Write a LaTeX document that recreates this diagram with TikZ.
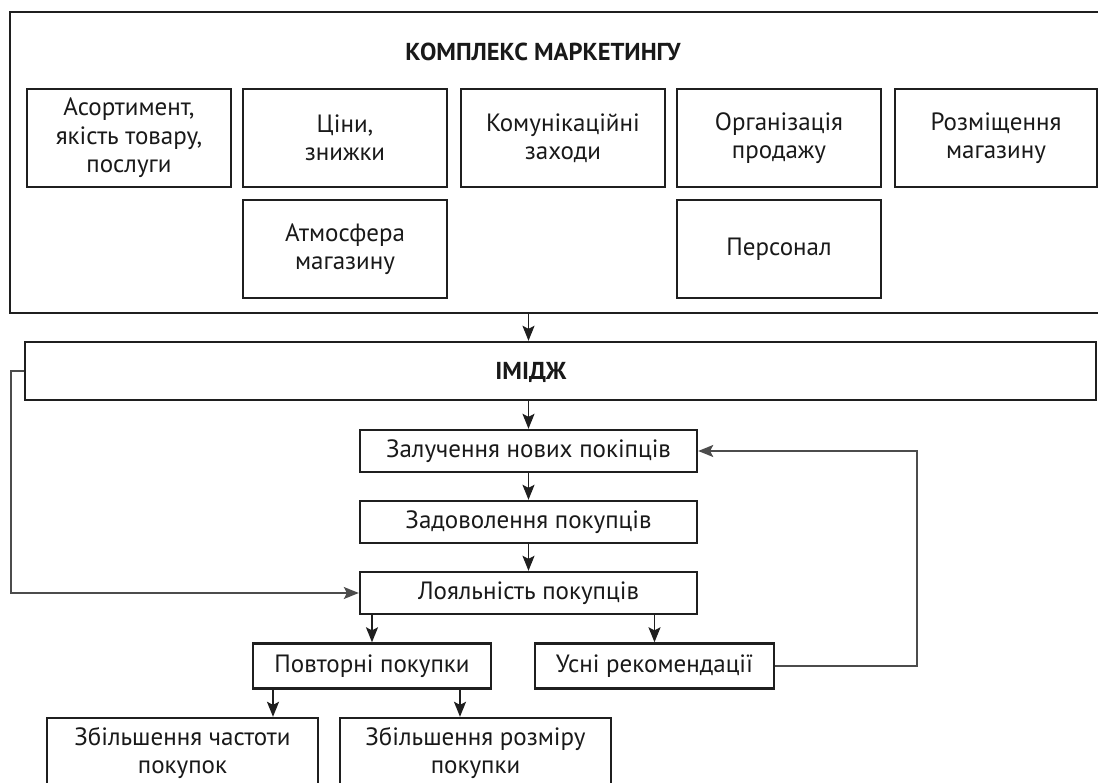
\documentclass[tikz,border=0pt]{standalone}
\usepackage{fontspec}
\setmainfont{PT Sans}
\usetikzlibrary{arrows.meta,calc}
\tikzset{
  box/.style={draw=black!88, line width=2.4pt, inner sep=0pt, align=center,
    font=\fontsize{25}{28.5}\selectfont, text=black!90},
  arr/.style={draw=black!88, line width=1.4pt, -{Stealth[length=15pt,width=12pt,inset=3pt]}},
  fb/.style={draw=black!70, line width=1.3pt, -{Stealth[length=15pt,width=12pt,inset=3pt]}},
  lbl/.style={inner sep=0pt, font=\fontsize{24.5}{28}\selectfont\bfseries, text=black!90}
}
\begin{document}
\begin{tikzpicture}[x=1pt,y=-1pt]
\useasboundingbox (0,0) rectangle (1098,783);
\clip (0,0) rectangle (1098,783);
% marketing mix
\node[box, minimum width=1110pt, minimum height=301pt] (mix) at (565,162.5) {};
\node[lbl] (mixt) at (543,52) {КОМПЛЕКС МАРКЕТИНГУ};
\node[box, minimum width=204pt, minimum height=98pt] (asort) at (129,138) {Асортимент,\\якість товару,\\послуги};
\node[box, minimum width=204pt, minimum height=98pt] (tsiny) at (345,138) {Ціни,\\знижки};
\node[box, minimum width=204pt, minimum height=98pt] (komun) at (563,138) {Комунікаційні\\заходи};
\node[box, minimum width=204pt, minimum height=98pt] (org) at (779,138) {Організація\\продажу};
\node[box, minimum width=202pt, minimum height=98pt] (rozm) at (996,138) {Розміщення\\магазину};
\node[box, minimum width=204pt, minimum height=98pt] (atm) at (345,249) {Атмосфера\\магазину};
\node[box, minimum width=204pt, minimum height=98pt] (pers) at (779,249) {Персонал};
% image
\node[box, minimum width=1071pt, minimum height=58pt] (im) at (560.5,371) {};
\node[lbl] (imt) at (531,372) {ІМІДЖ};
% flow
\node[box, minimum width=337pt, minimum height=42pt] (zal) at (528.5,451) {Залучення нових покіпців};
\node[box, minimum width=337pt, minimum height=42pt] (zad) at (528.5,522) {Задоволення покупців};
\node[box, minimum width=337pt, minimum height=42pt] (loy) at (528.5,593) {Лояльність покупців};
\node[box, minimum width=238pt, minimum height=45pt] (pov) at (372,666) {Повторні покупки};
\node[box, minimum width=239pt, minimum height=45pt] (usn) at (654.5,666) {Усні рекомендації};
\node[box, minimum width=271pt, minimum height=70pt] (zch) at (182.5,753) {Збільшення частоти\\покупок};
\node[box, minimum width=271pt, minimum height=70pt] (zro) at (475.5,753) {Збільшення розміру\\покупки};
% helper coordinates
\coordinate (cA) at (273,0);
\coordinate (cB) at (460,0);
\coordinate (fbR) at (917,0);
\coordinate (fbL) at (11,0);
% connectors
\draw[arr] (mix.south -| zal.north) -- (im.north -| zal.north);
\draw[arr] (im.south -| zal.north) -- (zal.north);
\draw[arr] (zal) -- (zad);
\draw[arr] (zad) -- (loy);
\draw[arr] (loy.south -| pov.north) -- (pov.north);
\draw[arr] (loy.south -| usn.north) -- (usn.north);
\draw[arr] (pov.south -| cA) -- (zch.north -| cA);
\draw[arr] (pov.south -| cB) -- (zro.north -| cB);
\draw[fb] (usn.east) -- (usn.east -| fbR) |- (zal.east);
\draw[fb] (im.west) -- (im.west -| fbL) |- (loy.west);
\end{tikzpicture}
\end{document}
